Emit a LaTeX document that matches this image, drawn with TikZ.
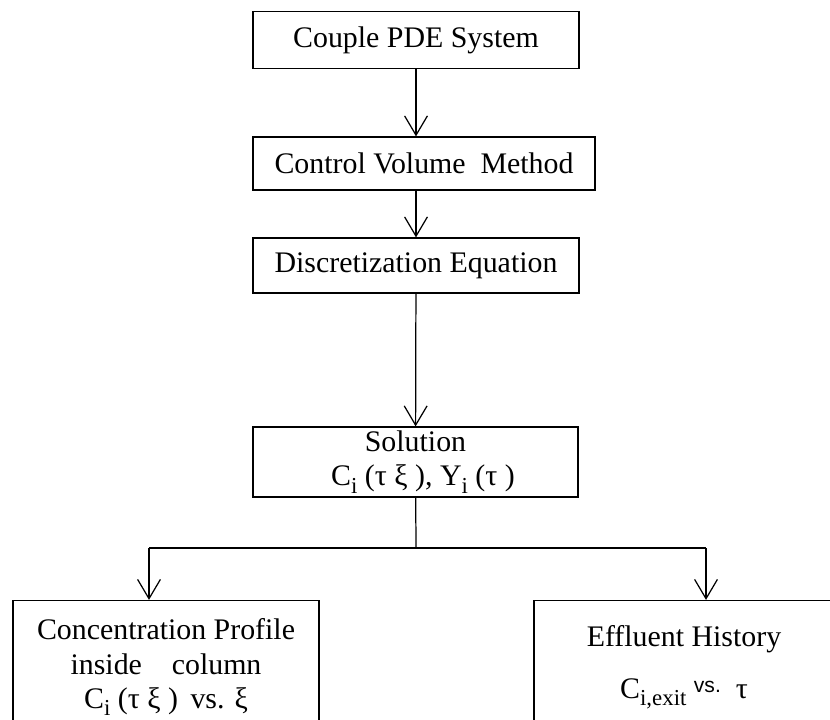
\documentclass[tikz,border=0pt]{standalone}
\usepackage{fontspec}
\setmainfont{Liberation Serif}
\setsansfont{Liberation Sans}
\usetikzlibrary{arrows.meta}
% lowered index, a bit larger than \textsubscript
\newcommand{\lowidx}[1]{\raisebox{-4pt}{\fontsize{13}{14}\selectfont #1}}

\begin{document}
\begin{tikzpicture}[x=0.02cm,y=-0.02cm,line width=0.7pt,
  every node/.style={font=\fontsize{17}{19.5}\selectfont},
  box/.style={draw,align=center,inner sep=0pt},
  arr/.style={-{Straight Barb[length=11pt,width=13pt,line width=0.7pt]}}]
\useasboundingbox (0,0) rectangle (830,719);
% main chain
\node[box,minimum width=6.52cm,minimum height=1.14cm] (pde) at (416,40) {Couple PDE System};
\node[box,minimum width=6.84cm,minimum height=1.06cm] (cvm) at (424,163.5) {Control Volume\ \ Method};
\node[box,minimum width=6.52cm,minimum height=1.1cm] (disc) at (416,265.5) {Discretization Equation};
\node[box,minimum width=6.5cm,minimum height=1.4cm] (sol) at (415.5,462)
  {Solution\\ \ \ C\lowidx{i} (τ ξ ), Y\lowidx{i} (τ )};
% the two results
\node[box,minimum width=6.12cm,minimum height=2.66cm] (prof) at (166,667)
  {Concentration Profile\\ inside\quad column\\ C\lowidx{i} (τ ξ )\,\ vs. ξ};
\node[box,minimum width=6cm,minimum height=2.66cm] (eff) at (684,667)
  {Effluent History\\[10pt] C\lowidx{i,exit}\ \raisebox{3pt}{\sffamily\fontsize{12}{14}\selectfont vs.}\ \ τ};
\draw[arr] (pde.south) -- (pde.south |- cvm.north);
\draw[arr] (disc.north |- cvm.south) -- (disc.north);
\draw[arr] (disc) -- (sol);
% branch below the solution
\coordinate (split) at (416,548);
\coordinate (dropL) at (149,548);
\coordinate (dropR) at (706,548);
\draw (sol) -- (split);
\draw (dropL) -- (dropR);
\draw[arr] (dropL) -- (dropL |- prof.north);
\draw[arr] (dropR) -- (dropR |- eff.north);
\end{tikzpicture}
\end{document}
